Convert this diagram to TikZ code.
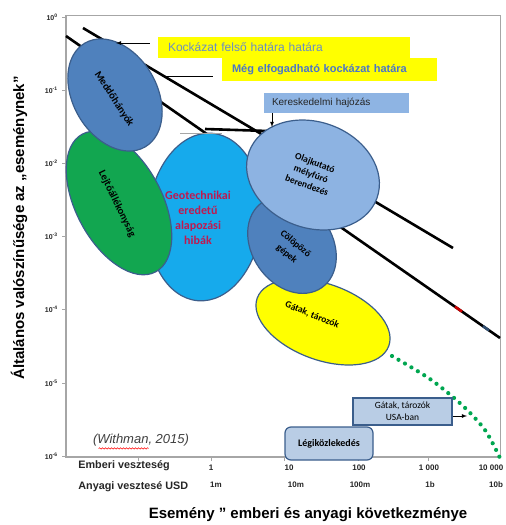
\documentclass[tikz,border=0pt]{standalone}
\usepackage{fontspec}
\setmainfont{Liberation Sans}
\newfontfamily\carlito{Carlito}
\usepackage{tikz}
\usetikzlibrary{shapes.geometric}
\usetikzlibrary{decorations.pathmorphing}

\definecolor{tengely}{HTML}{A6A6A6}
\definecolor{perem}{HTML}{3B5E8C}
\definecolor{meddokek}{HTML}{4F81BD}
\definecolor{lejtozold}{HTML}{12A650}
\definecolor{geocian}{HTML}{16AAEC}
\definecolor{olajkek}{HTML}{8DB3E2}
\definecolor{gatsarga}{HTML}{FFFF00}
\definecolor{geopiros}{HTML}{C0184F}
\definecolor{dobozkek}{HTML}{B9CDE5}
\definecolor{hajokek}{HTML}{8EB4E3}
\definecolor{felsokek}{HTML}{6A8EC4}
\definecolor{elfogkek}{HTML}{4A76C8}
\definecolor{pontzold}{HTML}{00A650}
\definecolor{feliratszin}{HTML}{262626}

\begin{document}
\begin{tikzpicture}[
        >=latex, thick, x=1pt, y=-1pt,
        folt/.style={ellipse, draw=perem, line width=1.2pt, inner sep=0pt},
        foltszoveg/.style={font=\carlito\bfseries\fontsize{9.5}{12}\selectfont, align=center, inner sep=0pt},
        sargadoboz/.style={fill=gatsarga, inner ysep=0pt, align=left},
        kekdoboz/.style={fill=dobozkek, draw=perem, line width=1.2pt, align=center, inner sep=0pt},
        skala/.style={font=\bfseries\fontsize{8}{9}\selectfont, text=feliratszin, inner sep=0pt},
        fokszam/.style={font=\bfseries\fontsize{7}{8}\selectfont, text=feliratszin, inner sep=0pt, anchor=east},
    ]

    \useasboundingbox (0,0) rectangle (506,525);
    \fill[white] (0,0) rectangle (506,525);

    % keret es tengelyek
    \draw[tengely, line width=0.6pt] (66,15) -- (500,15) -- (500,457);
    \draw[tengely, line width=1.6pt] (66,15) -- (66,457) -- (500,457);

    \foreach \e [count=\i from 0] in {0,-1,-2,-3,-4,-5,-6} {
        \draw[tengely, line width=0.8pt] (62, 17+73.2*\i) -- (66, 17+73.2*\i);
        \node[fokszam] (y\i) at (58, 17+73.2*\i) {10\textsuperscript{\e}};
    }

    \foreach \x in {138, 211, 284, 358, 428}
        \draw[tengely, line width=0.8pt] (\x, 457) -- (\x, 461);

    \foreach \xa/\xb/\ember/\penz [count=\i] in {211/216/1/1m, 289/296/10/10m, 359/360/100/100m, 429/430/1 000/1b, 491/496/10 000/10b} {
        \node[skala] (ember\i) at (\xa, 468) {\ember};
        \node[skala] (penz\i) at (\xb, 485) {\penz};
    }

    \node[skala, anchor=west, font=\bfseries\fontsize{10.8}{12}\selectfont] (emberi) at (78, 466) {Emberi veszteség};
    \node[skala, anchor=west, font=\bfseries\fontsize{10.8}{12}\selectfont] (anyagi) at (78, 487) {Anyagi vesztesé USD};

    \node[rotate=90, font=\bfseries\fontsize{15}{17}\selectfont, inner sep=0pt] (ycim) at (19, 228) {Általános valószínűsége az „eseménynek”};
    \node[font=\bfseries\fontsize{15}{17}\selectfont, inner sep=0pt] (xcim) at (308, 515) {Esemény ” emberi és anyagi következménye};

    % hatarvonalak
    \coordinate (felso a) at (83,28);
    \coordinate (felso b) at (453,248);
    \coordinate (elfog a) at (66,36);
    \coordinate (elfog b) at (500,338);
    \draw[line width=2.6pt] (felso a) -- (felso b);
    \draw[line width=2.6pt] (elfog a) -- (elfog b);
    \draw[red!80!black, line width=2.6pt] (455,306.7) -- (462,311.6);
    \draw[black!40!meddokek, line width=2.6pt] (483,326.2) -- (489,330.4);
    \coordinate (hajo a) at (205,129);
    \coordinate (hajo b) at (268,131);
    \draw[line width=2.6pt] (hajo a) -- (hajo b);

    % foltok
    \node[folt, fill=geocian, minimum width=114pt, minimum height=168pt, rotate=-5] (geo) at (205,217) {};
    \draw[tengely, line width=0.8pt] (180,133) -- (222,133);
    \node[folt, fill=lejtozold, minimum width=156pt, minimum height=86pt, rotate=-62] (lejto) at (119,203) {};
    \node[folt, fill=meddokek, minimum width=120pt, minimum height=84pt, rotate=-60] (meddo) at (115,95) {};
    \node[folt, fill=gatsarga, minimum width=140pt, minimum height=76pt, rotate=-20] (gat) at (323,322) {};
    \node[folt, fill=meddokek, minimum width=104pt, minimum height=80pt, rotate=-55] (colop) at (292,245) {};
    \node[folt, fill=olajkek, minimum width=136pt, minimum height=106pt, rotate=-20] (olaj) at (313,175) {};

    \node[foltszoveg, text=geopiros, font=\carlito\bfseries\fontsize{12}{14.8}\selectfont] (geo szoveg) at (198,218) {Geotechnikai\\eredetű\\alapozási\\hibák};
    \node[foltszoveg, rotate=-64, font=\carlito\bfseries\fontsize{10.5}{12}\selectfont] (lejto szoveg) at (117,204) {Lejtőállékonyság};
    \node[foltszoveg, rotate=-57, font=\carlito\bfseries\fontsize{10.5}{12}\selectfont] (meddo szoveg) at (114,99) {Meddőhányók};
    \node[foltszoveg, rotate=-22] (gat szoveg) at (312,315) {Gátak, tározók};
    \node[foltszoveg, rotate=-40, font=\carlito\bfseries\fontsize{9.5}{13.5}\selectfont] (colop szoveg) at (291,249) {Cölöpöző\\gépek};
    \node[foltszoveg, rotate=-20] (olaj szoveg) at (311,174) {Olajkutató\\mélyfúró\\berendezés};

    % pontozott gorbe
    \draw[pontzold, line width=4.2pt, line cap=round, dash pattern=on 0pt off 7.5pt]
        plot[smooth] coordinates {(392,356) (430,379) (462,405) (485,430) (500,458)};

    % feliratok
    \node[sargadoboz, minimum width=252pt, minimum height=21pt, text width=232pt, inner xsep=10pt,
          text=felsokek, font=\fontsize{12}{13}\selectfont] (felso) at (284,47.5) {Kockázat felső határa határa};
    \node[sargadoboz, minimum width=215pt, minimum height=23pt, text width=195pt, inner xsep=10pt,
          text=elfogkek, font=\bfseries\fontsize{11}{13}\selectfont] (elfog) at (329.5,69.5) {Még elfogadható kockázat határa};
    \node[fill=hajokek, minimum width=145pt, minimum height=20pt, text width=129pt, inner xsep=8pt, inner ysep=0pt,
          align=left, text=feliratszin, font=\fontsize{10}{11}\selectfont] (hajozas) at (336.5,103) {Kereskedelmi hajózás};

    \coordinate (felso cel) at (116,43);
    \coordinate (elfog cel) at (163,76);
    \coordinate (hajo cel) at (272,127);
    \draw[->, line width=0.8pt] ([xshift=-8pt, yshift=4.5pt]felso.west) -- (felso cel);
    \draw[line width=0.8pt] ([xshift=-9pt, yshift=-6.5pt]elfog.west) -- (elfog cel);
    \draw[->, line width=0.8pt] (hajozas.south -| hajo cel) -- (hajo cel);

    \node[kekdoboz, minimum width=99pt, minimum height=27pt, font=\carlito\fontsize{9.5}{12}\selectfont] (usa) at (402.5,411.5) {Gátak, tározók\\USA-ban};
    \node[kekdoboz, rounded corners=6pt, minimum width=88pt, minimum height=33pt, font=\carlito\bfseries\fontsize{10}{11}\selectfont] (legi) at (329,443.5) {Légiközlekedés};
    \coordinate (usa cel) at (467,416);
    \draw[->, line width=0.8pt] (usa.east |- usa cel) -- (usa cel);

    \node[font=\itshape\fontsize{13}{15}\selectfont, text=black!75, inner sep=0pt] (idezet) at (141,440) {(Withman, 2015)};
    \draw[red, line width=0.5pt, decorate, decoration={snake, amplitude=0.7pt, segment length=3pt}]
        ([xshift=6pt, yshift=-2pt]idezet.south west) -- ([xshift=56pt, yshift=-2pt]idezet.south west);

\end{tikzpicture}
\end{document}
